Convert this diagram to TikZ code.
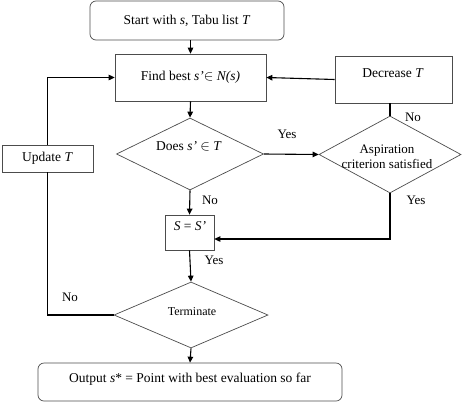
\documentclass[tikz,border=0pt]{standalone}
\usepackage{fontspec}
\setmainfont{Liberation Serif}
\usetikzlibrary{shapes.geometric,arrows.meta,calc}
\begin{document}
\begin{tikzpicture}[x=1pt,y=-1pt,
 box/.style={draw=black!70, line width=0.7pt, inner sep=0pt},
 rbox/.style={box, rounded corners=6pt},
 dia/.style={draw=black!70, line width=0.7pt, diamond, inner sep=0pt},
 txt/.style={font=\fontsize{13.5}{16}\selectfont, inner sep=0pt},
 lbl/.style={font=\fontsize{13}{15}\selectfont, inner sep=0pt},
 conn/.style={line width=1.1pt, -{Triangle[length=6pt,width=5.5pt]}},
 plain/.style={line width=1.1pt}]
\useasboundingbox (0,0) rectangle (470,402);
% boxes
\node[rbox, minimum width=194pt, minimum height=39pt, txt] (start) at (187,20.5) {Start with \textit{s}, Tabu list \textit{T}};
\node[box, minimum width=151pt, minimum height=47pt, txt] (find) at (190.5,77.5) {Find best \textit{s'}$\in$ \textit{N(s)}};
\node[box, minimum width=117pt, minimum height=47pt] (dec) at (393.5,79.5) {};
\node[txt] (dectxt) at (393,73) {Decrease \textit{T}};
\node[dia, minimum width=147pt, minimum height=72pt] (does) at (190,154) {};
\node[txt] (doestxt) at (189,146) {Does \textit{s'} $\in$ \textit{T}};
\node[dia, minimum width=142pt, minimum height=77pt] (asp) at (390,154.5) {};
\node[txt, align=center, font=\fontsize{13}{15}\selectfont] (asptxt) at (387,157) {Aspiration\\criterion satisfied};
\node[box, minimum width=49pt, minimum height=35pt] (sbox) at (189.5,232.5) {};
\node[txt] (stxt) at (190,226) {\textit{S} = \textit{S'}};
\node[dia, minimum width=154pt, minimum height=66pt] (term) at (191,315) {};
\node[txt, font=\fontsize{12}{14}\selectfont] (termtxt) at (192,312) {Terminate};
\node[rbox, minimum width=304pt, minimum height=38pt] (out) at (190,382) {};
\node[txt] (outtxt) at (190,379) {Output \textit{s}* = Point with best evaluation so far};
\node[box, minimum width=91pt, minimum height=27pt, txt] (upd) at (47.5,158.5) {Update \textit{T}};
% connectors
\draw[conn] (find.north |- start.south) -- (find.north);
\draw[conn] (find.south) -- (does.north);
\draw[conn] (dec.west) -- (find.east);
\draw[conn] (does.east) -- (asp.west);
\draw[plain] (asp.north) -- (asp.north |- dec.south);
\coordinate (sin) at ($(sbox.east)+(0,6.5)$);
\draw[conn] (asp.south) |- (sin);
\draw[conn] (does.south) -- (sbox.north);
\draw[conn] (sbox.south) -- (term.north);
\draw[plain] (term.west) -| (upd.south);
\draw[conn] (upd.north) |- (find.west);
\draw[conn] (term.south) -- (out.north);
% labels
\node[lbl] (l1) at (287,134) {Yes};
\node[lbl] (l2) at (413,117) {No};
\node[lbl] (l3) at (416,200) {Yes};
\node[lbl] (l4) at (210,200) {No};
\node[lbl] (l5) at (214,260) {Yes};
\node[lbl] (l6) at (70,297) {No};
\end{tikzpicture}
\end{document}
